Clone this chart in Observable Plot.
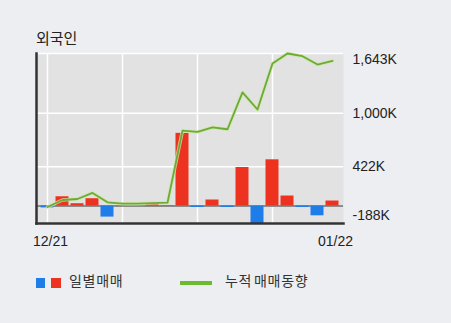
<!DOCTYPE html>
<html>
<head>
<meta charset="utf-8">
<script src="https://cdn.jsdelivr.net/npm/d3@7"></script>
<script src="https://cdn.jsdelivr.net/npm/@observablehq/plot@0.6"></script>
<style>
  html, body { margin: 0; padding: 0; background: #eceef2; width: 451px; height: 323px; overflow: hidden; }
  body { position: relative; font-family: "Liberation Sans", Arial, "Noto Sans CJK KR", sans-serif; color: #222; }
  #title { position: absolute; left: 36px; top: 30px; font-size: 15px; line-height: 16px; font-family: "Noto Sans CJK KR", sans-serif; color: #222; }
  #chart { position: absolute; left: 0; top: 45px; }
  .lg { position: absolute; }
  .lgtext { position: absolute; top: 271px; font-size: 14px; line-height: 18px; letter-spacing: 0.7px; word-spacing: -2px; font-family: "Noto Sans CJK KR", sans-serif; color: #333; }
</style>
</head>
<body>
<div id="title">외국인</div>
<div id="chart"></div>
<div class="lg" style="left:36px;top:278px;width:9px;height:10px;background:#1f7de9"></div>
<div class="lg" style="left:51px;top:278px;width:10px;height:10px;background:#ec3220"></div>
<div class="lgtext" style="left:69px">일별매매</div>
<div class="lg" style="left:180px;top:281px;width:32px;height:4px;background:#6cbb2e"></div>
<div class="lgtext" style="left:225px">누적 매매동향</div>
<script>
const dates = ["12/21","12/24","12/26","12/27","12/28","01/02","01/03","01/04","01/07","01/08",
               "01/09","01/10","01/11","01/14","01/15","01/16","01/17","01/18","01/21","01/22"];
const daily = [-20, 100, 25, 79, -119, 3, -2, 20, 4, 783, -15, 65, -15, 415, -188, 498, 108, -15, -105, 54];
const cumulative = [-10, 65, 76, 141, 40, 25, 25, 32, 36, 812, 798, 848, 827, 1224, 1040, 1535, 1643, 1614, 1524, 1563];
const yTicks = [1643, 1000, 422, -188];
const yTickLabels = ["1,643K", "1,000K", "422K", "-188K"];
const xGrid = [dates[0], dates[5], dates[10], dates[15]];
const xLabels = [dates[0], dates[dates.length - 1]];

const data = dates.map((d, i) => ({date: d, net: daily[i], cum: cumulative[i]}));
const tickRows = yTicks.map((v, i) => ({value: v, label: yTickLabels[i]}));

const RED = "#ee3220", BLUE = "#1f7de9";

const chart = Plot.plot({
  width: 451,
  height: 210,
  marginLeft: 36,
  marginRight: 108,
  marginTop: 8,
  marginBottom: 32,
  style: {background: "transparent", fontFamily: "'Liberation Sans', Arial, sans-serif", fontSize: "14px", color: "#222"},
  x: {type: "band", domain: dates, paddingInner: 0.133, paddingOuter: 0.3, round: false, axis: null},
  y: {domain: [-188, 1643], axis: null},
  marks: [
    Plot.frame({fill: "#e2e2e2", stroke: null}),
    Plot.ruleY(yTicks, {stroke: "#ffffff", strokeWidth: 1.5}),
    Plot.ruleX(xGrid, {stroke: "#ffffff", strokeWidth: 1.5}),
    Plot.ruleY([0], {stroke: "#8c8c8c", strokeWidth: 2}),
    Plot.barY(data, {x: "date", y: "net", fill: d => d.net < 0 ? BLUE : RED}),
    Plot.line(data, {x: "date", y: "cum", stroke: "#cfe6a0", strokeWidth: 3.5, strokeOpacity: 0.8}),
    Plot.line(data, {x: "date", y: "cum", stroke: "#6aab3a", strokeWidth: 1.8}),
    Plot.frame({anchor: "left", stroke: "#333", strokeWidth: 2.5}),
    Plot.frame({anchor: "bottom", stroke: "#333", strokeWidth: 2.5}),
    Plot.axisX(xLabels, {tickSize: 0, tickPadding: 13, dx: 3, label: null, fontSize: 14, fill: "#222"}),
    Plot.text(tickRows.filter(d => d.value === yTicks[0]), {y: "value", text: "label", frameAnchor: "right", dx: 9, dy: 6, textAnchor: "start", fontSize: 14, fill: "#222"}),
    Plot.text(tickRows.filter(d => d.value !== yTicks[0] && d.value !== yTicks[3]), {y: "value", text: "label", frameAnchor: "right", dx: 9, textAnchor: "start", fontSize: 14, fill: "#222"}),
    Plot.text(tickRows.filter(d => d.value === yTicks[3]), {y: "value", text: "label", frameAnchor: "right", dx: 9, dy: -8, textAnchor: "start", fontSize: 14, fill: "#222"})
  ]
});
document.getElementById("chart").appendChild(chart);
</script>
</body>
</html>
